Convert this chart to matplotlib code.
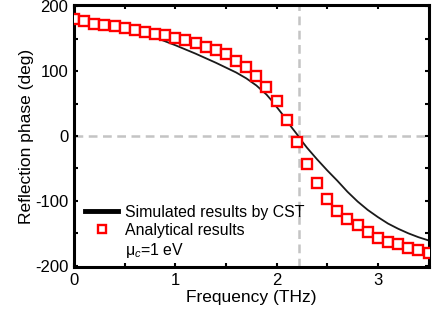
import numpy as np
import matplotlib
matplotlib.use("Agg")
import matplotlib.pyplot as plt
from matplotlib.lines import Line2D
from matplotlib.ticker import MultipleLocator

plt.rcParams['font.family'] = ['Liberation Sans', 'DejaVu Sans']
plt.rcParams['mathtext.fontset'] = 'custom'
plt.rcParams['mathtext.rm'] = 'Liberation Sans'
plt.rcParams['mathtext.it'] = 'Liberation Sans:italic'
plt.rcParams['axes.unicode_minus'] = False

# Simulated (CST) curve
sim_freq = [0.0, 0.2, 0.4, 0.6, 0.8, 1.0, 1.2, 1.4, 1.6, 1.7, 1.8, 1.9, 1.95, 2.0, 2.05,
            2.1, 2.15, 2.2, 2.25, 2.3, 2.35, 2.4, 2.5, 2.6, 2.7, 2.8, 2.9, 3.0, 3.1,
            3.2, 3.3, 3.4, 3.5]
sim_phase = [183, 179, 173, 163, 152, 140, 127, 113, 98, 89, 78, 64, 55, 45, 35,
             24, 13, 3, -8, -18, -27, -36, -53, -69, -86, -101, -114, -125, -135,
             -143, -150, -156, -161]

# Analytical results
ana_freq = [0.0, 0.1, 0.2, 0.3, 0.4, 0.5, 0.6, 0.7, 0.8, 0.9, 1.0, 1.1, 1.2, 1.3,
            1.4, 1.5, 1.6, 1.7, 1.8, 1.9, 2.0, 2.1, 2.2, 2.3, 2.4, 2.5, 2.6, 2.7,
            2.8, 2.9, 3.0, 3.1, 3.2, 3.3, 3.4, 3.5]
ana_phase = [180, 177, 173, 171, 169, 167, 164, 161, 158, 155, 151, 148, 144, 138,
             132, 126, 115, 107, 93, 76, 54, 25, -10, -43, -73, -97, -115, -128,
             -138, -148, -157, -163, -167, -172, -176, -180]

f_res = 2.22

fig = plt.figure(figsize=(4.34, 3.23), dpi=100)
ax = fig.add_axes([74/434, 1-267/323, 354.5/434, 262/323])

ax.axvline(f_res, color='#c4c4c4', lw=1.8, dashes=(3.5, 2.2), zorder=1)
ax.axhline(0, color='#c4c4c4', lw=1.8, dashes=(3.5, 2.2), zorder=1)

ax.plot(sim_freq, sim_phase, color='#1a1a1a', lw=1.3, zorder=2)
ax.plot(ana_freq, ana_phase, ls='none', marker='s', ms=6.5, mew=1.7,
        mec='#ff0000', mfc='white', zorder=3)

ax.set_xlim(0, 3.5)
ax.set_ylim(-202, 202)
ax.xaxis.set_major_locator(MultipleLocator(1))
ax.xaxis.set_minor_locator(MultipleLocator(0.5))
ax.yaxis.set_major_locator(MultipleLocator(100))
ax.yaxis.set_minor_locator(MultipleLocator(50))
ax.tick_params(which='both', direction='in', top=True, right=True,
               length=3, width=1.5, labelsize=12, pad=4)
for s in ax.spines.values():
    s.set_linewidth(2.2)

ax.set_xlabel('Frequency (THz)', fontsize=12.5, labelpad=2)
ax.set_ylabel('Reflection phase (deg)', fontsize=12.5, labelpad=1)

handles = [Line2D([], [], color='black', lw=3.5),
           Line2D([], [], ls='none', marker='s', ms=6.3, mew=1.7, mec='#ff0000', mfc='white'),
           Line2D([], [], ls='none')]
labels = ['Simulated results by CST', 'Analytical results', 'μ$_c$=1 eV']
ax.legend(handles, labels, loc='upper left', bbox_to_anchor=(0.031, 0.238),
          frameon=False, fontsize=11.4, handlelength=2.1, handletextpad=0.4,
          labelspacing=0.2, borderpad=0, borderaxespad=0)

fig.savefig('out.png', dpi=100)
